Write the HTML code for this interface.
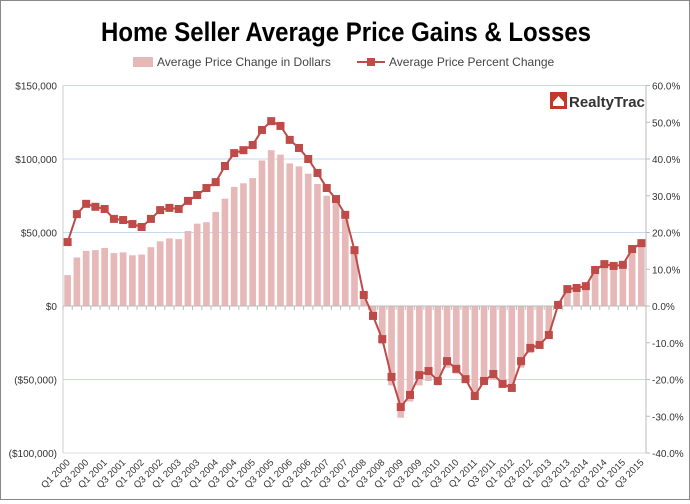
<!DOCTYPE html>
<html><head><meta charset="utf-8"><style>
body{margin:0;background:#fff;font-family:"Liberation Sans",sans-serif}
#wrap{position:relative;width:688px;height:498px;border:1px solid #888;background:#fff}
</style></head><body>
<div id="wrap">
<svg id="c" width="688" height="498" xmlns="http://www.w3.org/2000/svg">
<text x="345" y="40" text-anchor="middle" font-size="27" font-weight="bold" fill="#000" textLength="490" lengthAdjust="spacingAndGlyphs">Home Seller Average Price Gains &amp; Losses</text>
<g>
<rect x="132" y="56" width="20" height="10" fill="#e6b9b8"/>
<text x="156" y="65" font-size="12" fill="#444">Average Price Change in Dollars</text>
<line x1="356" y1="61" x2="384" y2="61" stroke="#be4b48" stroke-width="2"/>
<rect x="366" y="57" width="8" height="8" fill="#be4b48"/>
<text x="388" y="65" font-size="12" fill="#444">Average Price Percent Change</text>
</g>
<g>
<rect x="549" y="91" width="17" height="17" fill="#c0392b"/>
<path d="M552 101 L557.5 95 L563 101 L563 105 L552 105 Z" fill="#fff"/>
<text x="568" y="106" font-size="15" font-weight="bold" fill="#333">RealtyTrac</text>
</g>
<g id="plot"></g>
</svg>
</div>
<script>
const categories=[];for(let y=2000;y<=2015;y++)for(let q=1;q<=4;q++){if(y===2015&&q>3)break;categories.push('Q'+q+' '+y);}
const dollarValues=[21,33,37.5,38,39.5,36,36.5,34.5,35,40,44,46,45.5,51,56,57,64,73,81,83.5,87,99,106,103,97,95,90,83,75,70,59,37,7,-9,-26,-54,-76,-65,-54,-51,-54,-42,-46,-51,-62,-53,-50,-54,-56,-42,-32,-29,-20,1,12,12,13,25,29,28,28,40,44];
const percentValues=[17.4,25,27.8,27,26.4,23.7,23.4,22.3,21.5,23.7,26.1,26.7,26.4,28.6,30.2,32.1,33.7,38.1,41.6,42.4,43.8,47.9,50.3,49,45.2,43,40,36.2,32.1,29.1,24.8,15.2,3,-2.7,-9,-19.3,-27.5,-24.2,-18.8,-17.7,-20.4,-15,-17.1,-19.9,-24.5,-20.4,-18.5,-21.2,-22.3,-15,-11.4,-10.6,-7.9,0.3,4.6,4.9,5.4,9.8,11.4,10.9,11.2,15.5,17.1];
const leftTicks=[150,100,50,0,-50,-100];
const leftTickLabels=['$150,000','$100,000','$50,000','$0','($50,000)','($100,000)'];
const rightTicks=[60,50,40,30,20,10,0,-10,-20,-30,-40];
const rightTickLabels=['60.0%','50.0%','40.0%','30.0%','20.0%','10.0%','0.0%','-10.0%','-20.0%','-30.0%','-40.0%'];

const NS='http://www.w3.org/2000/svg';
const g=document.getElementById('plot');
const X0=62,X1=645,Y0=305;
const step=(X1-X0)/categories.length;
const xC=i=>X0+step*(i+0.5);
const yL=v=>Y0-v*1.47;
const yR=p=>Y0-p*3.675;
function mk(t,a){const e=document.createElementNS(NS,t);for(const k in a)e.setAttribute(k,a[k]);g.appendChild(e);return e;}
leftTicks.forEach((v,i)=>{
  if(v!==0&&v!==-100){const l=mk('line',{x1:X0,x2:X1,y1:yL(v),y2:yL(v),stroke:'#c6d9f1','stroke-width':1});
  
  }
  const t=mk('text',{x:X0-6,y:yL(v)+4,'text-anchor':'end','font-size':10,fill:'#333'});t.textContent=leftTickLabels[i];
  
  
});
rightTicks.forEach((v,i)=>{
  const t=mk('text',{x:X1+6,y:yR(v)+4,'font-size':10,fill:'#333'});t.textContent=rightTickLabels[i];
  
  
  mk('line',{x1:X1,x2:X1+4,y1:yR(v),y2:yR(v),stroke:'#bbb'});
});
let ax=mk('line',{x1:X0,x2:X0,y1:yL(150),y2:yL(-100),stroke:'#ccc'});


ax=mk('line',{x1:X1,x2:X1,y1:yR(60),y2:yR(-40),stroke:'#bbb'});


mk('line',{x1:X0,x2:X1,y1:yL(-100),y2:yL(-100),stroke:'#ddd'});
dollarValues.forEach((v,i)=>{
  const w=step*0.72;const y=Math.min(yL(v),Y0);const h=Math.abs(yL(v)-Y0);
  const b=mk('rect',{x:xC(i)-w/2,y:y,width:w,height:h,fill:'#e6b9b8'});
  
  
});
ax=mk('line',{x1:X0,x2:X1,y1:Y0,y2:Y0,stroke:'#bbb'});


categories.forEach((c,i)=>{
  mk('line',{x1:xC(i)-step/2,x2:xC(i)-step/2,y1:Y0,y2:Y0+4,stroke:'#bbb'});
  if(i%2===0){const x=xC(i)+3,y=462;const t=mk('text',{x:x,y:y,'text-anchor':'end','font-size':9.5,fill:'#333',transform:`rotate(-45 ${x} ${y})`});t.textContent=c;
  
  }
});
const pl=mk('polyline',{points:percentValues.map((p,i)=>xC(i)+','+yR(p)).join(' '),fill:'none',stroke:'#be4b48','stroke-width':2});


percentValues.forEach((p,i)=>{
  const m=mk('rect',{x:xC(i)-4,y:yR(p)-4,width:8,height:8,fill:'#be4b48'});
  
  
});
</script>
</body></html>
